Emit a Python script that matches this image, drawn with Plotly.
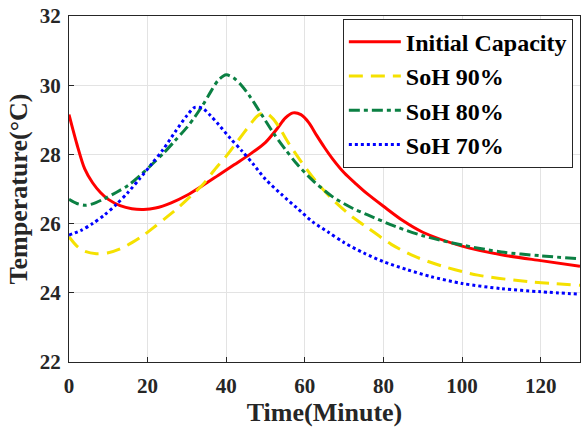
import plotly.graph_objects as go

# ---- data ----
t_init = [0, 2, 4, 6, 8, 10, 13, 16, 19, 22, 26, 30, 34, 38, 42, 46, 50, 53, 55, 57, 59, 61, 63, 65, 67, 70, 73, 76, 80, 85, 90, 100, 110, 120, 130]
y_init = [29.15, 28.3, 27.58, 27.18, 26.9, 26.7, 26.52, 26.43, 26.41, 26.45, 26.6, 26.82, 27.1, 27.4, 27.7, 28.0, 28.35, 28.75, 29.05, 29.2, 29.15, 28.92, 28.55, 28.2, 27.88, 27.47, 27.15, 26.85, 26.5, 26.08, 25.75, 25.35, 25.1, 24.93, 24.77]

t_90 = [0, 2, 4, 7, 10, 13, 16, 19, 22, 25, 28, 31, 34, 37, 40, 43, 46, 48, 50, 52, 54, 56, 59, 63, 67, 72, 76, 82, 88, 95, 104, 117, 130]
y_90 = [25.62, 25.35, 25.2, 25.13, 25.16, 25.27, 25.45, 25.67, 25.93, 26.2, 26.48, 26.8, 27.12, 27.55, 27.95, 28.4, 28.85, 29.12, 29.2, 29.02, 28.68, 28.3, 27.8, 27.2, 26.7, 26.2, 25.88, 25.4, 25.05, 24.77, 24.51, 24.32, 24.22]

t_80 = [0, 2, 4, 6, 9, 12, 15, 18, 21, 24, 27, 30, 32, 34, 36, 38, 40, 42, 44, 46, 49, 52, 55, 58, 62, 67, 72, 76, 83, 90, 100, 110, 120, 130]
y_80 = [26.7, 26.58, 26.53, 26.57, 26.72, 26.9, 27.1, 27.38, 27.7, 28.03, 28.4, 28.78, 29.08, 29.42, 29.8, 30.15, 30.3, 30.2, 29.98, 29.68, 29.15, 28.62, 28.15, 27.72, 27.25, 26.78, 26.45, 26.25, 25.92, 25.65, 25.38, 25.18, 25.07, 24.98]

t_70 = [0, 3, 6, 9, 12, 15, 18, 21, 24, 27, 30, 32, 34, 36, 38, 41, 44, 47, 50, 54, 58, 62, 66, 70, 75, 80, 86, 92, 100, 110, 120, 130]
y_70 = [25.67, 25.8, 26.0, 26.25, 26.55, 26.9, 27.3, 27.72, 28.15, 28.65, 29.12, 29.36, 29.33, 29.12, 28.87, 28.47, 28.1, 27.7, 27.28, 26.85, 26.45, 26.05, 25.75, 25.45, 25.15, 24.9, 24.67, 24.47, 24.27, 24.12, 24.03, 23.96]

names = ["Initial Capacity", "SoH 90%", "SoH 80%", "SoH 70%"]
x_ticks = [0, 20, 40, 60, 80, 100, 120]
y_ticks = [22, 24, 26, 28, 30, 32]

FONT = "Liberation Serif"
INK = "#262626"

series = [
    (t_init, y_init, names[0], "#FF0000", "solid"),
    (t_90, y_90, names[1], "#F5E100", "14px,8px"),
    (t_80, y_80, names[2], "#0B8043", "11px,4px,4px,4px"),
    (t_70, y_70, names[3], "#0000FF", "3px,3px"),
]

def bold(s):
    return "<b>" + str(s) + "</b>"

fig = go.Figure()
for tx, ty, nm, col, dash in series:
    fig.add_trace(go.Scatter(
        x=tx, y=ty, name=bold(nm), mode="lines",
        line=dict(color=col, width=3, dash=dash, shape="spline", smoothing=0.8),
    ))

axis_common = dict(
    showline=True, mirror=True, linecolor=INK, linewidth=1,
    ticks="inside", ticklen=5, tickcolor=INK, tickwidth=1,
    showgrid=True, gridcolor="#e3e3e3", gridwidth=1,
    zeroline=False,
    tickfont=dict(family=FONT, size=21, color=INK),
)

fig.update_xaxes(
    range=[0, 130], tickvals=x_ticks, ticktext=[bold(v) for v in x_ticks],
    title=dict(text=bold("Time(Minute)"), font=dict(family=FONT, size=26, color=INK), standoff=4),
    ticklabelstandoff=5,
    **axis_common,
)
fig.update_yaxes(
    range=[22, 32], tickvals=y_ticks, ticktext=[bold(v) for v in y_ticks],
    title=dict(text=bold("Temperature(°C)"), font=dict(family=FONT, size=26, color=INK), standoff=4),
    ticklabelstandoff=3,
    **axis_common,
)

fig.update_layout(
    width=582, height=428,
    margin=dict(l=69, r=2, t=16, b=66, autoexpand=False),
    paper_bgcolor="white", plot_bgcolor="white",
    font=dict(family=FONT),
    showlegend=True,
    legend=dict(
        x=0.986, y=0.992, xanchor="right", yanchor="top",
        bgcolor="white", bordercolor=INK, borderwidth=1,
        font=dict(family=FONT, size=24, color="black"),
        tracegroupgap=0, itemwidth=52,
    ),
)

fig.write_html("out.html")
